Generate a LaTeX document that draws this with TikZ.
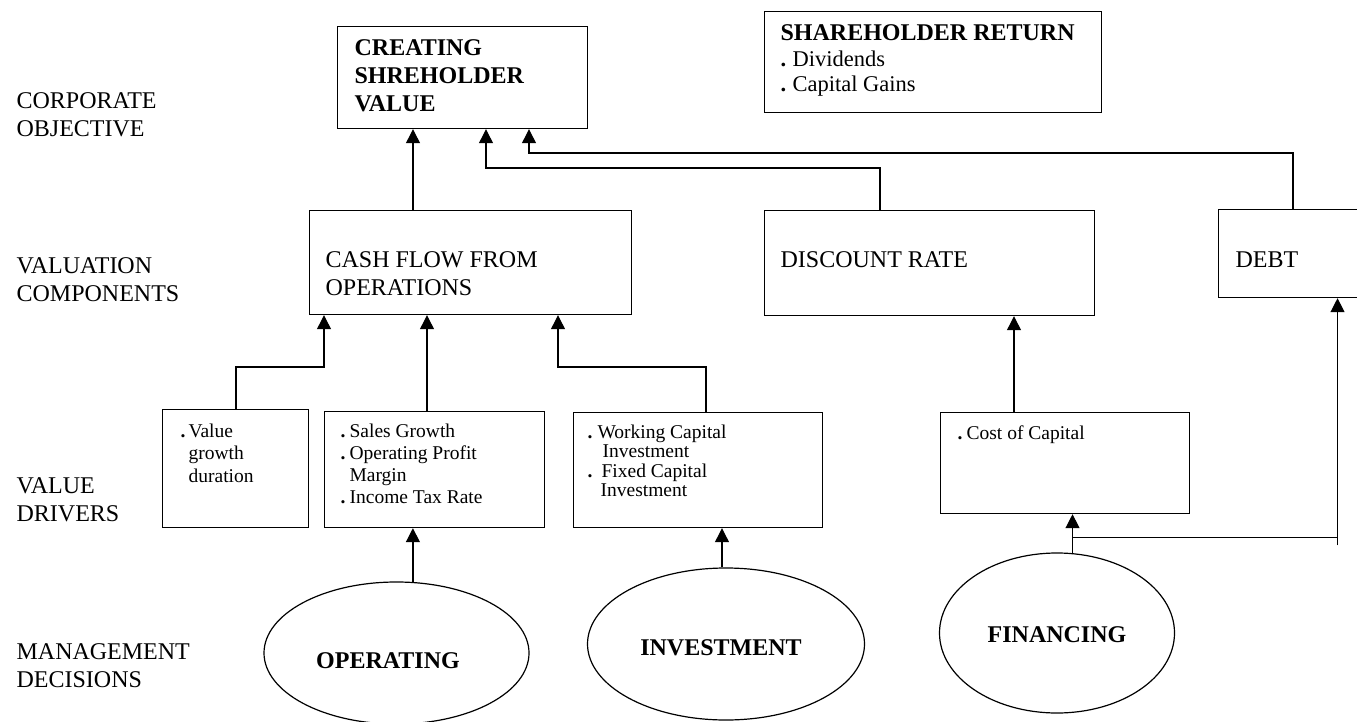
\documentclass[tikz,border=0pt]{standalone}
\usepackage{fontspec}
\setmainfont{Liberation Serif}
\usetikzlibrary{arrows.meta,shapes.geometric,calc}

% bold leading dot of a list entry, set in a box of the given width
\newcommand\bdot[1]{\makebox[#1][l]{\textbf{.}}}

\begin{document}
\begin{tikzpicture}[x=1pt,y=-1pt,line width=1.2pt,
  box/.style={draw,rectangle,inner sep=0pt,anchor=north west},
  oval/.style={draw,ellipse,inner sep=0pt},
  big/.style={font=\fontsize{24}{27.5}\selectfont,inner sep=0pt,anchor=north west,align=left},
  bigb/.style={font=\fontsize{24}{28}\selectfont\bfseries,inner sep=0pt,align=left},
  small/.style={font=\fontsize{19.5}{22}\selectfont,inner sep=0pt,anchor=north west,align=left},
  arr/.style={-{Triangle[width=14pt,length=14pt]}}
]
\clip (0,0) rectangle (1357,722);
\fill[white] (0,0) rectangle (1357,722);

% row labels
\node[big] (lobj) at (16,92.3) {CORPORATE\\OBJECTIVE};
\node[big] (lval) at (16,257.3) {VALUATION\\COMPONENTS};
\node[big] (ldrv) at (16,477.3) {VALUE\\DRIVERS};
\node[big] (ldec) at (16,643.3) {MANAGEMENT\\DECISIONS};

% corporate objective
\node[box,minimum width=250pt,minimum height=102pt] (cv) at (337,26) {};
\node[bigb,anchor=north west] (cvt) at (354,39.3) {CREATING\\SHREHOLDER\\VALUE};

\node[box,minimum width=337pt,minimum height=101pt] (sr) at (764,11) {};
\node[big,font=\fontsize{22.5}{25.5}\selectfont] (srt) at (780,24.5)
  {{\fontsize{24}{25.5}\selectfont\bfseries SHAREHOLDER RETURN}\\\bdot{12pt}Dividends\\\bdot{12pt}Capital Gains};

% valuation components
\node[box,minimum width=322pt,minimum height=104pt] (cf) at (309,210) {};
\node[big] (cft) at (325,251.3) {CASH FLOW FROM\\OPERATIONS};
\node[box,minimum width=330pt,minimum height=105pt] (dr) at (764,210) {};
\node[big] (drt) at (780,251.3) {DISCOUNT RATE};
\node[box,minimum width=200pt,minimum height=88pt] (db) at (1218,209) {};
\node[big] (dbt) at (1235,251.3) {DEBT};

% value drivers
\node[box,minimum width=146pt,minimum height=118pt] (vd) at (162,409) {};
\node[small,font=\fontsize{19.5}{22.5}\selectfont] (vdt) at (180,423)
  {\bdot{8pt}Value\\\hspace*{8pt}growth\\\hspace*{8pt}duration};
\node[box,minimum width=220pt,minimum height=116pt] (sg) at (324,411) {};
\node[small] (sgt) at (340,423.8)
  {\bdot{9pt}Sales Growth\\\bdot{9pt}Operating Profit\\\hspace*{9pt}Margin\\\bdot{9pt}Income Tax Rate};
\node[box,minimum width=249pt,minimum height=115pt] (wc) at (573,412) {};
\node[small,font=\fontsize{19.5}{19.5}\selectfont] (wct) at (587,424)
  {\bdot{10pt}Working Capital\\\hspace*{15pt}Investment\\\bdot{14pt}Fixed Capital\\\hspace*{13pt}Investment};
\node[box,minimum width=249pt,minimum height=101pt] (cc) at (940,412) {};
\node[small] (cct) at (957,424.8) {\bdot{9pt}Cost of Capital};

% management decisions
\node[oval,minimum width=265pt,minimum height=142pt] (op) at (396.5,653) {};
\node[bigb] (opt) at (388,661) {OPERATING};
\node[oval,minimum width=277pt,minimum height=152pt] (inv) at (726,644) {};
\node[bigb] (invt) at (721,648) {INVESTMENT};
\node[oval,minimum width=235pt,minimum height=160pt] (fin) at (1057,633) {};
\node[bigb] (fint) at (1057,635) {FINANCING};

% connectors into the objective
\draw[arr] ($(cf.north west)+(104,0)$) -- ($(cv.south west)+(76,0)$);
\draw[arr] ($(dr.north west)+(116,0)$) -- ++(0,-42) -| ($(cv.south west)+(149,0)$);
\draw[arr] ($(db.north west)+(75,0)$) -- ++(0,-56) -| ($(cv.south west)+(192,0)$);

% connectors into the valuation components
\draw[arr] ($(vd.north west)+(74,0)$) -- ++(0,-42) -| ($(cf.south west)+(15,0)$);
\draw[arr] ($(sg.north west)+(103,0)$) -- ($(cf.south west)+(118,0)$);
\draw[arr] ($(wc.north west)+(133,0)$) -- ++(0,-45) -| ($(cf.south west)+(249,0)$);
\draw[arr] ($(cc.north west)+(74,0)$) -- ($(dr.south west)+(250,0)$);

% connectors from the decisions
\draw[arr] (op.77.6) -- (op.77.6 |- sg.south);
\draw[arr] (inv.93.4) -- (inv.93.4 |- wc.south);
\draw[arr] (fin.79.3) -- (fin.79.3 |- cc.south);
\path (fin.79.3) ++(0,-15.7) coordinate (fj);
\draw (fj) -- ++(265,0) coordinate (dj);
\draw[arr] ($(dj)+(0,8)$) -- (dj |- db.south);
\end{tikzpicture}
\end{document}
